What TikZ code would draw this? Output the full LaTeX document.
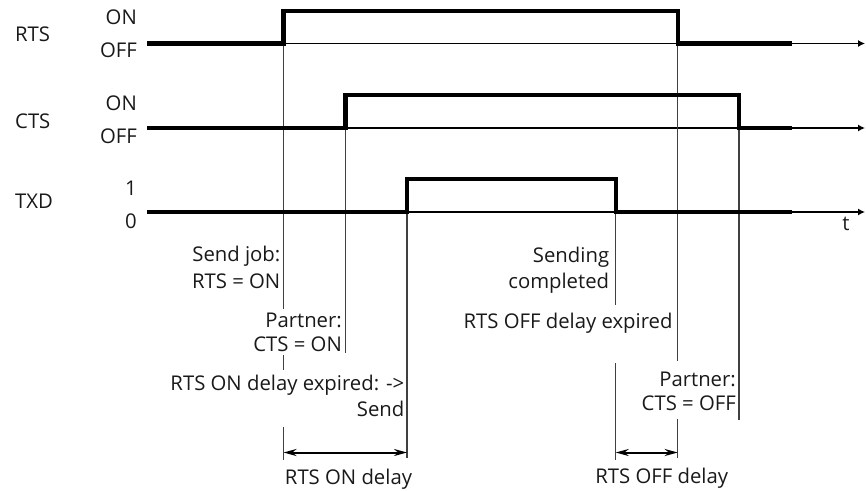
\documentclass[tikz,border=0pt]{standalone}
\usepackage{fontspec}
\setmainfont{Open Sans}
\usetikzlibrary{arrows.meta}
\begin{document}
\begin{tikzpicture}[x=1pt,y=-1pt,
  lbl/.style={inner sep=0pt,text=black!90,font=\fontsize{20.3}{24}\selectfont},
  sig/.style={line width=4.3pt,line join=miter},
  axis/.style={line width=1.3pt,-{Latex[length=7pt,width=7pt]}},
  mark line/.style={line width=1.1pt,black!75},
  dimarrow/.style={line width=2pt,{Stealth[length=13pt,width=7pt]}-{Stealth[length=13pt,width=7pt]}}]
\useasboundingbox (0,0) rectangle (866,490);
% axes
\coordinate (rtsS) at (147,43.5); \coordinate (rtsE) at (865,43.5);
\coordinate (ctsS) at (147,128); \coordinate (ctsE) at (865,128);
\coordinate (txdS) at (147,212); \coordinate (txdE) at (865,212);
\draw[axis] (rtsS) -- (rtsE);
\draw[axis] (ctsS) -- (ctsE);
\draw[axis] (txdS) -- (txdE);
% vertical marker lines
\draw[mark line] (283.5,43.5) -- (283.5,309);
\draw[mark line] (283.5,355) -- (283.5,370);
\draw[mark line] (283.5,427) -- (283.5,460);
\draw[mark line] (345.5,128) -- (345.5,353);
\draw[mark line] (407,212) -- (407,458);
\draw[mark line] (615.7,212) -- (615.7,305);
\draw[mark line] (615.7,363) -- (615.7,460);
\draw[mark line] (677.7,43.5) -- (677.7,361);
\draw[mark line] (677.7,419) -- (677.7,458);
\draw[mark line] (739,128) -- (739,420);
% signals
\draw[sig] (147,43.5) -- (283.5,43.5) -- (283.5,10.8) -- (677.7,10.8) -- (677.7,43.5) -- (792,43.5);
\draw[sig] (147,128) -- (345.5,128) -- (345.5,95) -- (739,95) -- (739,128) -- (792,128);
\draw[sig] (147,212) -- (407,212) -- (407,179) -- (615.7,179) -- (615.7,212) -- (792,212);
% signal labels
\node[lbl,anchor=base west] (rts) at (15,41.7) {RTS};
\node[lbl,anchor=base east] (rtson) at (137,24) {ON};
\node[lbl,anchor=base east] (rtsoff) at (137,57.3) {OFF};
\node[lbl,anchor=base west] (cts) at (15,128.3) {CTS};
\node[lbl,anchor=base east] (ctson) at (137,110) {ON};
\node[lbl,anchor=base east] (ctsoff) at (137,143.3) {OFF};
\node[lbl,anchor=base west] (txd) at (15,208.3) {TXD};
\node[lbl,anchor=base east] (txd1) at (137,195) {1};
\node[lbl,anchor=base east] (txd0) at (137,228.3) {0};
\node[lbl,anchor=base] (t) at (846,230) {t};
% event labels
\node[lbl,anchor=base east] (sj1) at (280.5,261.7) {Send job:};
\node[lbl,anchor=base east] (sj2) at (280.5,288.3) {RTS = ON};
\node[lbl,anchor=base east] (pa1) at (342,327.3) {Partner:};
\node[lbl,anchor=base east] (pa2) at (342,351.7) {CTS = ON};
\node[lbl,anchor=base east] (ex1) at (404.5,390) {RTS ON delay expired: ->};
\node[lbl,anchor=base east] (ex2) at (404.5,416) {Send};
\node[lbl,anchor=base east] (sc1) at (609.3,262.7) {Sending};
\node[lbl,anchor=base east] (sc2) at (609.3,288.3) {completed};
\node[lbl,anchor=base east] (oe) at (672.7,328.3) {RTS OFF delay expired};
\node[lbl,anchor=base east] (pb1) at (736,386) {Partner:};
\node[lbl,anchor=base east] (pb2) at (736,410.7) {CTS = OFF};
% delay dimensions
\coordinate (d1a) at (283.5,452.5); \coordinate (d1b) at (407,452.5);
\coordinate (d2a) at (615.7,452.5); \coordinate (d2b) at (677.7,452.5);
\draw[dimarrow] (d1a) -- (d1b);
\draw[dimarrow] (d2a) -- (d2b);
\node[lbl,anchor=base] (ondelay) at (348.5,484) {RTS ON delay};
\node[lbl,anchor=base] (offdelay) at (661.7,483.5) {RTS OFF delay};
\end{tikzpicture}
\end{document}
